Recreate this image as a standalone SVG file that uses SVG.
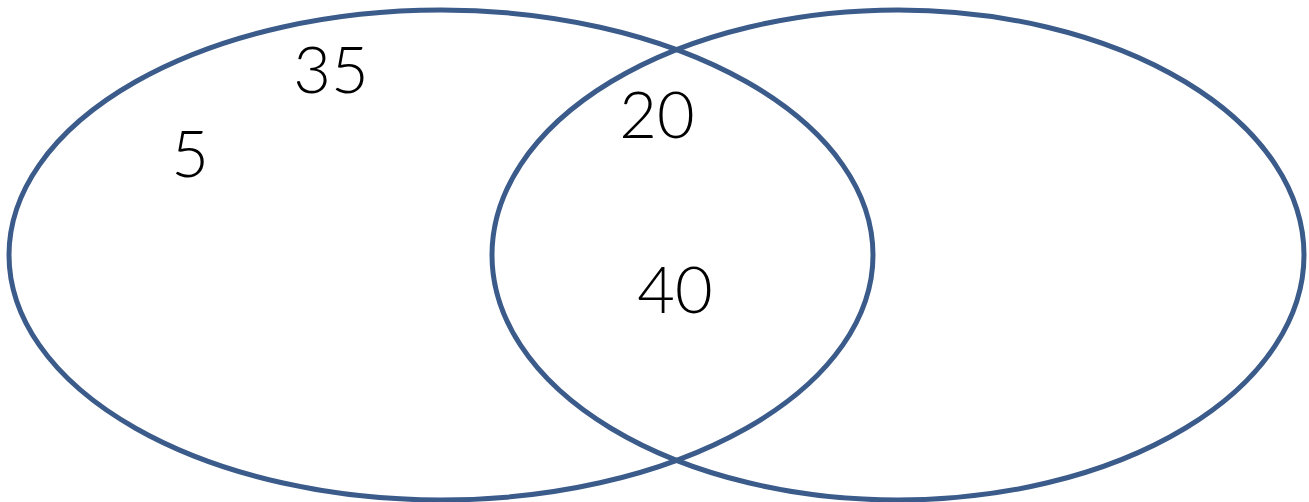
<svg xmlns="http://www.w3.org/2000/svg" width="1309" height="502" viewBox="0 0 1309 502">
<style>
.set{fill:none;stroke:#3b5b8a;stroke-width:5}
.lbl{font-family:Lato,"Open Sans",sans-serif;font-weight:300;font-size:65px;fill:#000;text-anchor:middle}
</style>
<rect width="1309" height="502" fill="#fff"/>
<g id="setA"><ellipse class="set" cx="441" cy="255" rx="432" ry="245"/></g>
<g id="setB"><ellipse class="set" cx="898" cy="255" rx="406" ry="245"/></g>
<g id="labels">
<text class="lbl" x="331" y="93">35</text>
<text class="lbl" x="190" y="177">5</text>
<text class="lbl" x="657" y="138">20</text>
<text class="lbl" x="675" y="313">40</text>
</g>
</svg>
